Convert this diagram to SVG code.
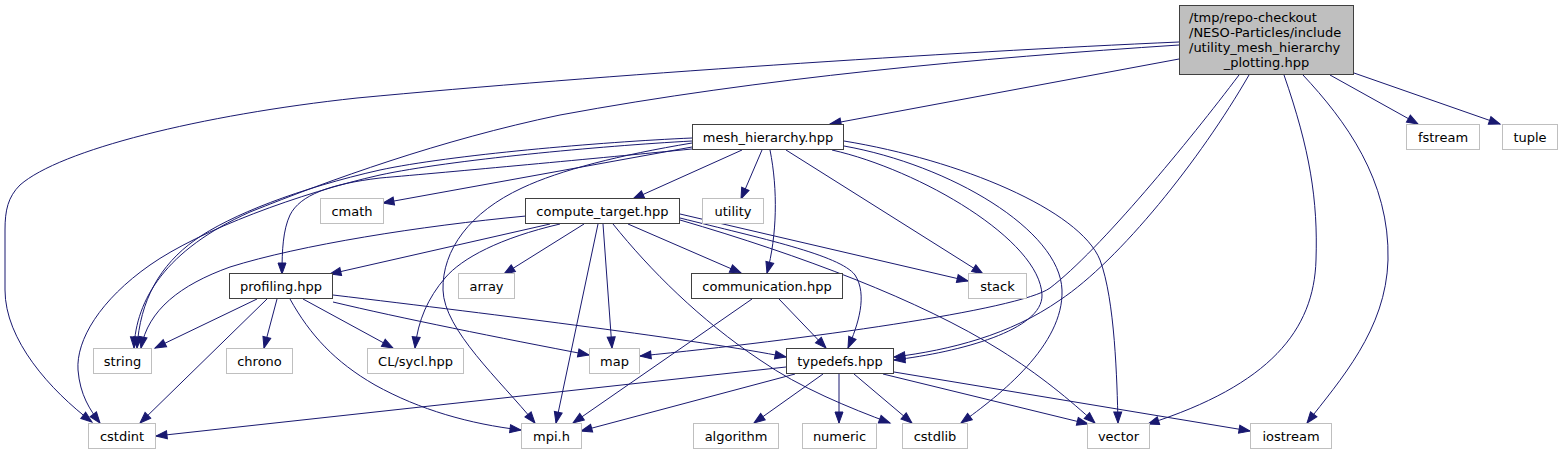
<svg xmlns="http://www.w3.org/2000/svg" width="1563" height="455" viewBox="0 0 1563 455">
<style>
.n rect{fill:#fff;stroke:#404040;stroke-width:1}
.x rect{fill:#fff;stroke:#bfbfbf;stroke-width:1}
.r rect{fill:#bfbfbf;stroke:#404040;stroke-width:1}
text{font-family:"DejaVu Sans","Liberation Sans",sans-serif;font-size:13px;fill:#000}
.c{text-anchor:middle}
#edges path{fill:none;stroke:#191970;stroke-width:1;marker-end:url(#ah)}
</style>
<defs>
<marker id="ah" markerUnits="userSpaceOnUse" markerWidth="12" markerHeight="9" refX="11" refY="4" orient="auto" overflow="visible">
<path d="M0,0 L11,4 L0,8 z" fill="#191970" stroke="#191970" stroke-width="1"/>
</marker>
</defs>
<rect width="1563" height="455" fill="#fff"/>
<g id="edges">
<path d="M1179,42 C950,52 600,75 357,98 C200,115 60,150 20,185 C8,197 5,210 5,230 L5,290 C5,340 50,390 92,422"/>
<path d="M1179,45 C980,58 760,78 560,115 C440,140 330,180 250,212 C165,250 136,300 134,348"/>
<path d="M1179,59 L830,124"/>
<path d="M1239,75 C1190,140 1100,250 1050,288 C1020,310 800,340 640,356"/>
<path d="M1249,75 C1200,160 1120,260 1060,300 C1010,335 950,350 894,357"/>
<path d="M1284,75 C1310,150 1318,200 1316,260 C1314,330 1270,385 1148,424"/>
<path d="M1303,75 C1345,120 1390,180 1388,260 C1386,330 1340,380 1307,423"/>
<path d="M1330,75 L1418,124"/>
<path d="M1354,73 L1500,124"/>
<path d="M692,138 C600,142 450,155 380,170 C300,188 230,215 195,240 C160,265 140,300 137,348"/>
<path d="M692,141 C600,146 450,160 380,175 C300,193 200,230 150,265 C100,300 76,340 78,370 C80,395 90,410 100,423"/>
<path d="M692,149 C600,158 450,172 380,178 C330,184 300,195 290,215 C283,230 282,250 282,274"/>
<path d="M692,147 L383,203"/>
<path d="M742,150 L633,199"/>
<path d="M762,150 L741,199"/>
<path d="M770,150 C778,190 777,235 767,273"/>
<path d="M692,143 C620,155 560,170 522,188 C470,212 442,250 443,290 C444,330 500,380 535,423"/>
<path d="M786,150 L983,274"/>
<path d="M832,150 C920,170 1040,240 1042,295 C1043,330 960,352 894,360"/>
<path d="M844,146 C950,165 1060,230 1062,290 C1064,345 1000,395 961,423"/>
<path d="M844,141 C960,160 1080,210 1100,260 C1115,300 1117,380 1118,423"/>
<path d="M526,216 C420,226 300,245 230,267 C180,285 148,310 141,348"/>
<path d="M550,224 L330,274"/>
<path d="M560,224 C500,238 462,258 445,278 C428,298 418,320 415,348"/>
<path d="M598,224 L556,423"/>
<path d="M584,224 L504,274"/>
<path d="M603,224 L612,348"/>
<path d="M628,224 L741,273"/>
<path d="M613,224 C650,270 700,320 760,360 C800,388 850,408 890,423"/>
<path d="M680,214 L968,281"/>
<path d="M680,218 C760,238 840,255 855,275 C868,295 858,325 848,348"/>
<path d="M680,220 C800,255 920,300 1000,350 C1040,375 1070,400 1095,423"/>
<path d="M257,299 L155,348"/>
<path d="M267,299 L140,423"/>
<path d="M277,299 L264,348"/>
<path d="M290,299 C310,335 335,362 375,385 C420,410 470,424 521,430"/>
<path d="M303,299 L393,348"/>
<path d="M333,302 C400,318 500,338 589,355"/>
<path d="M333,295 C500,315 700,340 786,357"/>
<path d="M779,299 L826,348"/>
<path d="M752,299 L573,423"/>
<path d="M786,367 L156,436"/>
<path d="M795,374 L581,431"/>
<path d="M823,374 L754,423"/>
<path d="M839,374 L839,423"/>
<path d="M854,374 L912,423"/>
<path d="M883,374 L1088,424"/>
<path d="M894,372 L1250,431"/>
</g>
<g id="root" class="r"><rect x="1179.5" y="5.5" width="174" height="69"/>
<text x="1189" y="22">/tmp/repo-checkout</text><text x="1189" y="37">/NESO-Particles/include</text><text x="1189" y="52">/utility_mesh_hierarchy</text><text x="1266.5" y="67" class="c">_plotting.hpp</text></g>
<g id="mesh_hierarchy" class="n"><rect x="692.5" y="124.5" width="151" height="25"/><text x="768" y="142" class="c">mesh_hierarchy.hpp</text></g>
<g id="fstream" class="x"><rect x="1406.5" y="124.5" width="73" height="25"/><text x="1443" y="142" class="c">fstream</text></g>
<g id="tuple" class="x"><rect x="1502.5" y="124.5" width="55" height="25"/><text x="1530" y="142" class="c">tuple</text></g>
<g id="cmath" class="x"><rect x="320.5" y="198.5" width="63" height="25"/><text x="352" y="216" class="c">cmath</text></g>
<g id="compute_target" class="n"><rect x="525.5" y="198.5" width="154" height="25"/><text x="602.5" y="216" class="c">compute_target.hpp</text></g>
<g id="utility" class="x"><rect x="702.5" y="198.5" width="61" height="25"/><text x="733" y="216" class="c">utility</text></g>
<g id="profiling" class="n"><rect x="229.5" y="273.5" width="103" height="25"/><text x="281" y="291" class="c">profiling.hpp</text></g>
<g id="array" class="x"><rect x="458.5" y="273.5" width="56" height="25"/><text x="486.5" y="291" class="c">array</text></g>
<g id="communication" class="n"><rect x="691.5" y="273.5" width="151" height="25"/><text x="767" y="291" class="c">communication.hpp</text></g>
<g id="stack" class="x"><rect x="968.5" y="273.5" width="58" height="25"/><text x="997.5" y="291" class="c">stack</text></g>
<g id="string" class="x"><rect x="93.5" y="348.5" width="58" height="25"/><text x="122.5" y="366" class="c">string</text></g>
<g id="chrono" class="x"><rect x="226.5" y="348.5" width="66" height="25"/><text x="259.5" y="366" class="c">chrono</text></g>
<g id="sycl" class="x"><rect x="367.5" y="348.5" width="96" height="25"/><text x="415.5" y="366" class="c">CL/sycl.hpp</text></g>
<g id="map" class="x"><rect x="589.5" y="348.5" width="50" height="25"/><text x="614.5" y="366" class="c">map</text></g>
<g id="typedefs" class="n"><rect x="786.5" y="348.5" width="107" height="25"/><text x="840" y="366" class="c">typedefs.hpp</text></g>
<g id="cstdint" class="x"><rect x="88.5" y="423.5" width="67" height="25"/><text x="122" y="441" class="c">cstdint</text></g>
<g id="mpi" class="x"><rect x="521.5" y="423.5" width="60" height="25"/><text x="551.5" y="441" class="c">mpi.h</text></g>
<g id="algorithm" class="x"><rect x="693.5" y="423.5" width="85" height="25"/><text x="736" y="441" class="c">algorithm</text></g>
<g id="numeric" class="x"><rect x="802.5" y="423.5" width="74" height="25"/><text x="839.5" y="441" class="c">numeric</text></g>
<g id="cstdlib" class="x"><rect x="902.5" y="423.5" width="65" height="25"/><text x="935" y="441" class="c">cstdlib</text></g>
<g id="vector" class="x"><rect x="1087.5" y="423.5" width="62" height="25"/><text x="1118.5" y="441" class="c">vector</text></g>
<g id="iostream" class="x"><rect x="1250.5" y="423.5" width="81" height="25"/><text x="1291" y="441" class="c">iostream</text></g>
</svg>
